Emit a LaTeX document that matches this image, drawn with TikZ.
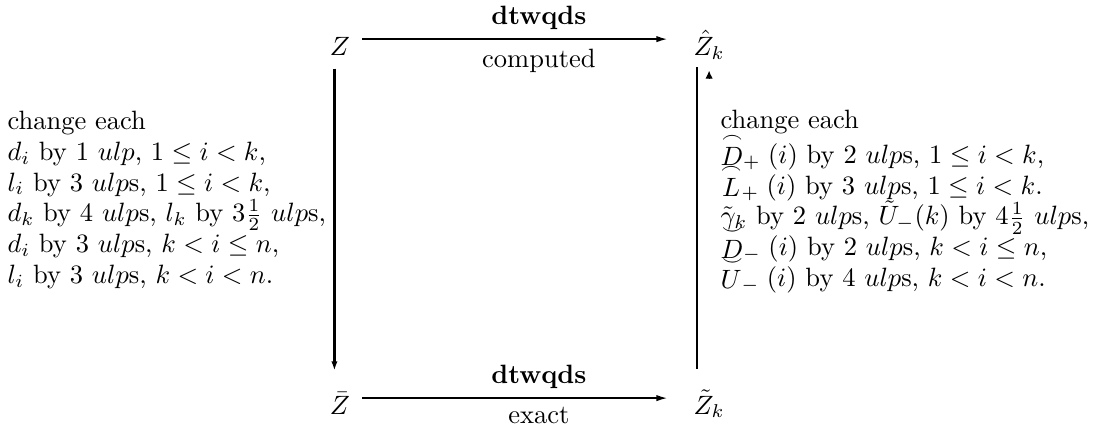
\documentclass[tikz,border=0pt]{standalone}
\usepackage{amsmath}
\usepackage{amssymb}
\usetikzlibrary{arrows.meta}

\begin{document}
\begin{tikzpicture}[
  font={\fontsize{10}{11.6}\selectfont\lineskiplimit=-20pt\relax},
  obj/.style={inner sep=0pt, text height=12pt, text depth=0pt},
  note/.style={align=left, inner sep=0pt, anchor=north west},
  harr/.style={-{Latex[length=4pt,width=2.4pt]}, line width=0.5pt, shorten <=4.5pt, shorten >=9.8pt},
  vline/.style={line width=0.9pt, shorten <=4.9pt, shorten >=4.2pt},
  tipc/.style={-{Latex[length=3pt,width=2.8pt]}, line width=0.4pt},
]
\useasboundingbox (0,0) rectangle (14.549,5.743);

% ---- the four corners ----
\node[obj,anchor=base]      (Z)  at (4.509,5.013) {$Z$};
\node[obj,anchor=base west] (Zh) at (9.191,5.013) {$\hat{Z}_k$};
\node[obj,anchor=base]      (Zb) at (4.509,0.252) {$\bar{Z}$};
\node[obj,anchor=base west] (Zt) at (9.191,0.252) {$\tilde{Z}_k$};

% ---- horizontal maps ----
\draw[harr] (Z.east) -- node[above,pos=0.55]{\textbf{dtwqds}} node[below,pos=0.55]{computed} (Zh.west);
\draw[harr] (Zb.east) -- node[above,pos=0.55]{\textbf{dtwqds}} node[below,pos=0.55]{exact} (Zt.west);

% ---- vertical maps ----
\draw[vline,-{Latex[length=3.5pt,width=2.4pt]}] ([xshift=-2.1pt]Z.south) -- ([xshift=-2.1pt]Zb.north);
\draw[vline] ([xshift=1.5pt]Zt.north west) -- ([xshift=1.5pt]Zh.south west);
\draw[tipc] ([yshift=-8.8pt]Zh.south) -- ([yshift=-5.7pt]Zh.south);

% ---- perturbations ----
\node[note] (left) at (0.093,4.276)
  {change each\\
   $d_i$ by 1 $ulp$, $1 \le i < k$,\\
   $l_i$ by 3 $ulp$s, $1 \le i < k$,\\
   $d_k$ by 4 $ulp$s, $l_k$ by $3\frac{1}{2}$ $ulp$s,\\
   $d_i$ by 3 $ulp$s, $k < i \le n$,\\
   $l_i$ by 3 $ulp$s, $k < i < n$.};
\node[note] (right) at (9.549,4.287)
  {change each\\[1.5pt]
   $\stackrel{\frown}{D}_+(i)$ by 2 $ulp$s, $1 \le i < k$,\\
   $\stackrel{\frown}{L}_+(i)$ by 3 $ulp$s, $1 \le i < k$.\\
   $\tilde{\gamma}_k$ by 2 $ulp$s, $\tilde{U}_-(k)$ by $4\frac{1}{2}$ $ulp$s,\\
   $\stackrel{\smile}{D}_-(i)$ by 2 $ulp$s, $k < i \le n$,\\
   $\stackrel{\smile}{U}_-(i)$ by 4 $ulp$s, $k < i < n$.};

\end{tikzpicture}
\end{document}
